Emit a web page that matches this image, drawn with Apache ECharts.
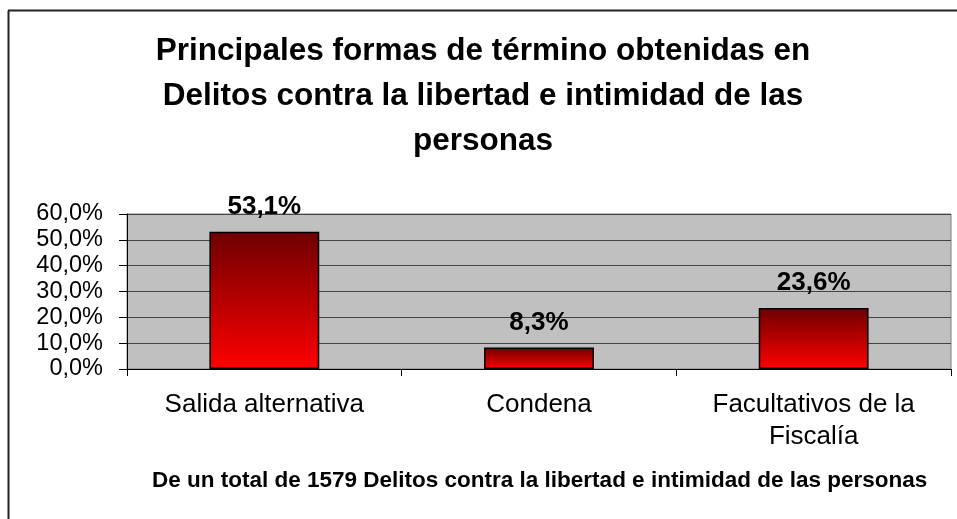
<!DOCTYPE html>
<html>
<head>
<meta charset="utf-8">
<script src="https://cdn.jsdelivr.net/npm/echarts@6/dist/echarts.min.js"></script>
<style>
  html, body { margin: 0; padding: 0; background: #fff; }
  #chart { width: 957px; height: 519px; }
</style>
</head>
<body>
<div id="chart"></div>
<script>
// Chart data
const categories = ['Salida alternativa', 'Condena', 'Facultativos de la\nFiscalía'];
const values = [53.1, 8.3, 23.6];
const valueLabels = ['53,1%', '8,3%', '23,6%'];

const titleText = 'Principales formas de término obtenidas en\nDelitos contra la libertad e intimidad de las\npersonas';
const footnoteText = 'De un total de 1579 Delitos contra la libertad e intimidad de las personas';

const FONT = '"Liberation Sans", Arial, sans-serif';

const chart = echarts.init(document.getElementById('chart'));

const option = {
    animation: false,
    backgroundColor: '#fff',
    title: {
        text: titleText,
        left: 478,
        textAlign: 'center',
        top: 24,
        textStyle: {
            fontFamily: FONT,
            fontSize: 31.5,
            fontWeight: 'bold',
            color: '#000',
            lineHeight: 45
        }
    },
    graphic: [
        // outer frame (left and top edges are visible)
        { type: 'line', shape: { x1: 8.5, y1: 10.5, x2: 8.5, y2: 519 }, style: { stroke: '#222', lineWidth: 2 } },
        { type: 'line', shape: { x1: 8, y1: 10.5, x2: 957, y2: 10.5 }, style: { stroke: '#222', lineWidth: 2 } },
        {
            type: 'text',
            left: 152,
            top: 469,
            style: {
                text: footnoteText,
                fontFamily: FONT,
                fontSize: 22.5,
                fontWeight: 'bold',
                fill: '#000'
            }
        }
    ],
    grid: {
        left: 127,
        right: 6,
        top: 214,
        bottom: 150,
        show: true,
        backgroundColor: '#c0c0c0',
        borderColor: '#808080',
        borderWidth: 1
    },
    xAxis: {
        type: 'category',
        data: categories,
        axisLine: { show: true, lineStyle: { color: '#000', width: 1 } },
        axisTick: { show: true, length: 7, lineStyle: { color: '#000' } },
        axisLabel: {
            margin: 20,
            fontFamily: FONT,
            fontSize: 26,
            color: '#000',
            lineHeight: 32,
            interval: 0
        }
    },
    yAxis: {
        type: 'value',
        min: 0,
        max: 60,
        interval: 10,
        axisLine: { show: true, lineStyle: { color: '#000', width: 1 } },
        axisTick: { show: true, length: 8, lineStyle: { color: '#000' } },
        axisLabel: {
            margin: 24,
            fontFamily: FONT,
            fontSize: 23.5,
            lineHeight: 24,
            color: '#000',
            formatter: v => v.toFixed(1).replace('.', ',') + '%'
        },
        splitLine: { show: true, lineStyle: { color: '#444', width: 1 } }
    },
    series: [{
        type: 'bar',
        data: values,
        barWidth: '40%',
        itemStyle: {
            color: new echarts.graphic.LinearGradient(0, 0, 0, 1, [
                { offset: 0, color: '#6e0000' },
                { offset: 1, color: '#ff0000' }
            ]),
            borderColor: '#000',
            borderWidth: 1.5
        },
        label: {
            show: true,
            position: 'top',
            distance: 12,
            fontFamily: FONT,
            fontSize: 26,
            fontWeight: 'bold',
            color: '#000',
            formatter: p => valueLabels[p.dataIndex]
        }
    }]
};

chart.setOption(option);
</script>
</body>
</html>
